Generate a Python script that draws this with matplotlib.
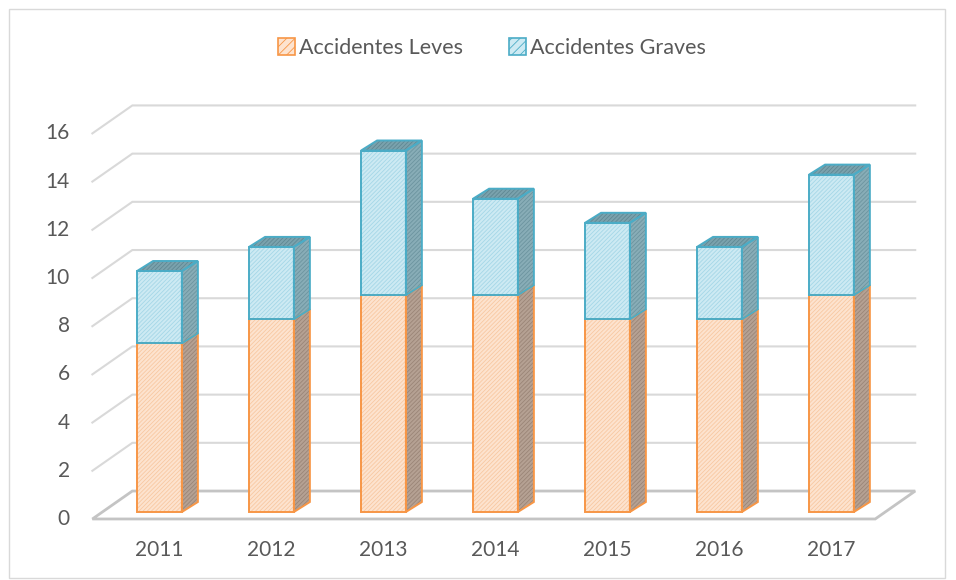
import matplotlib
matplotlib.use("Agg")
import matplotlib.pyplot as plt
from matplotlib.patches import Polygon, Rectangle, Patch

# datos
years = ["2011", "2012", "2013", "2014", "2015", "2016", "2017"]
leves = [7, 8, 9, 9, 8, 8, 9]
graves = [3, 3, 6, 4, 4, 3, 5]
yticks = [0, 2, 4, 6, 8, 10, 12, 14, 16]
labels = ["Accidentes Leves", "Accidentes Graves"]

plt.rcParams['font.family'] = ['Lato', 'DejaVu Sans']
plt.rcParams['hatch.linewidth'] = 0.6

TXT = "#595959"
GRID = "#d9d9d9"
FLOOR = "#c4c4c4"

# colores: (relleno, trama, borde)
orange_front = ("#fde3cf", "#f8c8a2", "#f79646")
orange_side = ("#b5a193", "#9a8577", "#f79646")
blue_front = ("#cdeaf3", "#a5d7e7", "#4bacc6")
blue_side = ("#88adb7", "#6c949f", "#4bacc6")
blue_top = ("#7aa2ad", "#5f8893", "#4bacc6")

# profundidad pseudo 3D (en unidades de datos)
DX, DY = 0.357, 1.16
BAR_D0 = 0.25
SIDE_DX, SIDE_DY = 16 / 112, 10 / 24.1
W = 0.40
XL, XR = -0.51, 6.48


def off(d):
    return (d - BAR_D0) * DX, (d - BAR_D0) * DY


def face(ax, pts, style, lw=1.4, z=3):
    fc, hc, ec = style
    ax.add_patch(Polygon(pts, closed=True, facecolor=fc, edgecolor=hc,
                         hatch="////////", lw=0, zorder=z))
    ax.add_patch(Polygon(pts, closed=True, fill=False, edgecolor=ec,
                         lw=lw, zorder=z + 0.1, joinstyle="miter"))


fig = plt.figure(figsize=(9.56, 5.8), dpi=100)
ax = fig.add_axes([0, 0, 1, 1])
ax.set_xlim(-1.424, 7.112)
ax.set_ylim(-2.822, 21.245)
ax.axis("off")

# marco del grafico
fig.add_artist(Rectangle((9 / 956, 2 / 580), 936 / 956, 569 / 580,
                         transform=fig.transFigure, fill=False,
                         edgecolor=GRID, lw=1.0))

# rejilla: pared izquierda + pared del fondo
fx0, fy0 = off(0)
fx1, fy1 = off(1)
for v in yticks[1:]:
    ax.plot([XL + fx0, XL + fx1, XR + fx1], [v + fy0, v + fy1, v + fy1],
            color=GRID, lw=1.5, zorder=1, solid_joinstyle="miter")

# suelo
floor = [(XL + fx0, fy0), (XR + fx0, fy0), (XR + fx1, fy1), (XL + fx1, fy1)]
ax.add_patch(Polygon(floor, closed=True, fill=False, edgecolor=FLOOR,
                     lw=2.0, zorder=1.5))

# barras
ddx, ddy = SIDE_DX, SIDE_DY
for i in range(len(years)):
    x0, x1 = i - W / 2, i + W / 2
    segs = [(0, leves[i], orange_front, orange_side),
            (leves[i], leves[i] + graves[i], blue_front, blue_side)]
    for b, t, fr, sd in segs:
        face(ax, [(x0, b), (x1, b), (x1, t), (x0, t)], fr)
        face(ax, [(x1, b), (x1 + ddx, b + ddy), (x1 + ddx, t + ddy), (x1, t)], sd)
    T = leves[i] + graves[i]
    face(ax, [(x0, T), (x1, T), (x1 + ddx, T + ddy), (x0 + ddx, T + ddy)], blue_top)

# etiquetas de ejes
for v in yticks:
    ax.text(-0.80, v + fy0, str(v), ha="right", va="center",
            fontsize=15, color=TXT)
for i, y in enumerate(years):
    ax.text(i, -1.58, y, ha="center", va="center", fontsize=15, color=TXT)

# leyenda
handles = [Patch(facecolor=orange_front[0], edgecolor=orange_front[2],
                 hatch="////", lw=1.2),
           Patch(facecolor=blue_front[0], edgecolor=blue_front[2],
                 hatch="////", lw=1.2)]
fig.legend(handles, labels, loc="center",
           bbox_to_anchor=(0.5 + 14 / 956, 1 - 48 / 580),
           ncol=2, frameon=False, fontsize=15.5, labelcolor=TXT,
           handlelength=0.8, handleheight=0.8, handletextpad=0.2,
           columnspacing=2.1)

fig.savefig("out.png", dpi=100)
